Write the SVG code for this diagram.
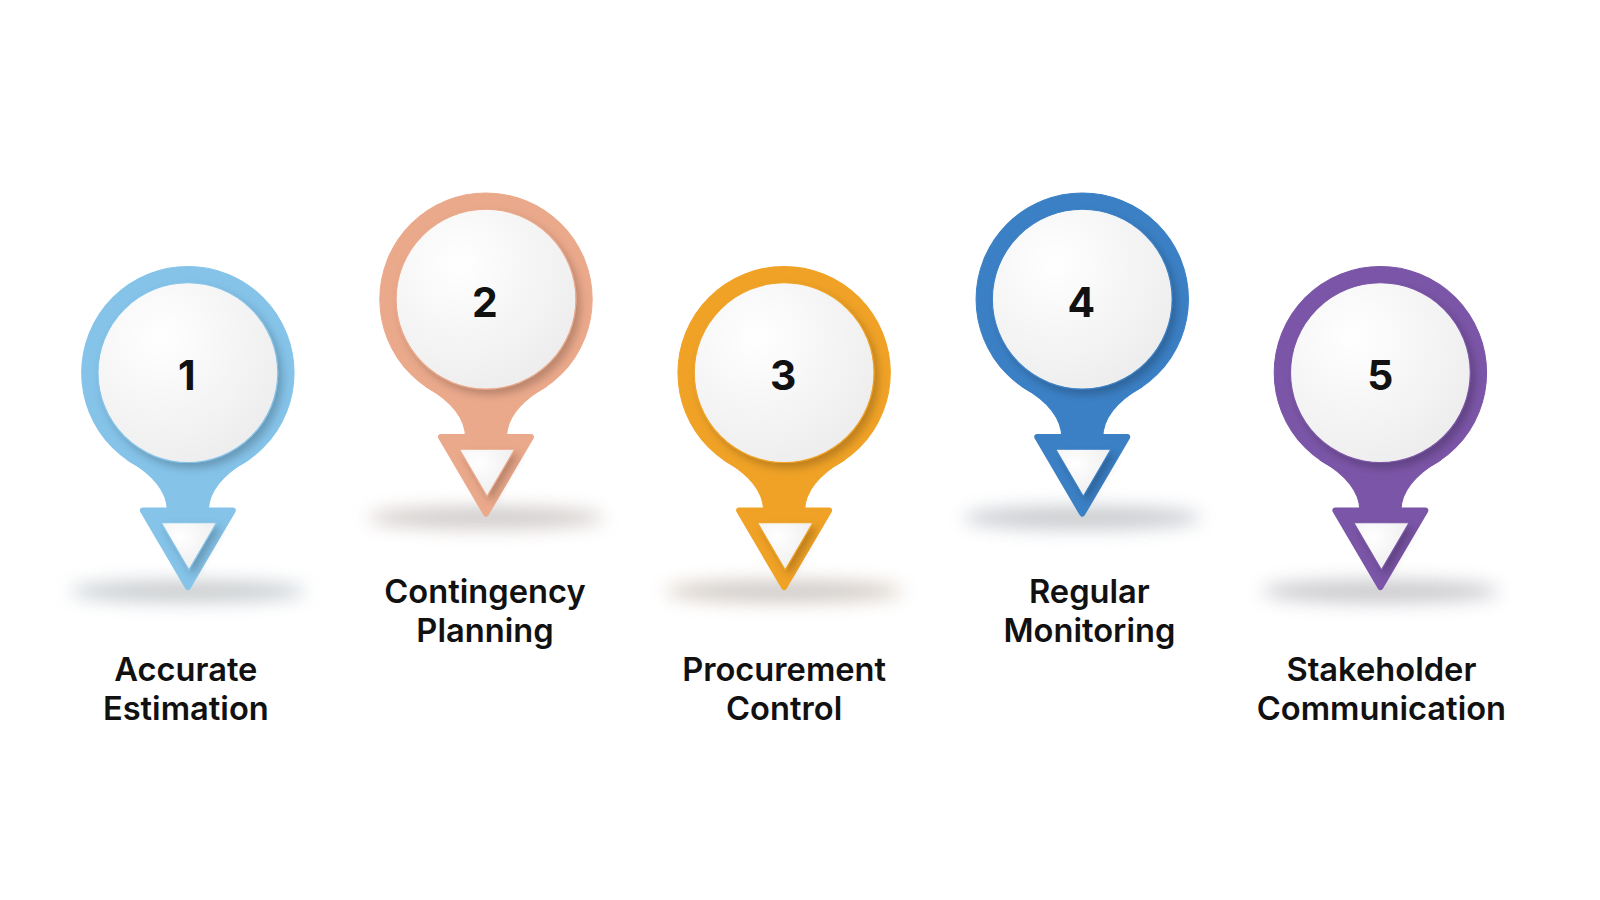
<svg xmlns="http://www.w3.org/2000/svg" width="1600" height="900" viewBox="0 0 1600 900">
<defs>
<filter id="blur" x="-50%" y="-200%" width="200%" height="500%"><feGaussianBlur stdDeviation="9"/></filter>
<filter id="ds" x="-20%" y="-20%" width="140%" height="140%"><feDropShadow dx="4" dy="5" stdDeviation="4" flood-color="#000" flood-opacity="0.22"/></filter>
<radialGradient id="wg" cx="0.35" cy="0.3" r="0.8"><stop offset="0" stop-color="#ffffff"/><stop offset="1" stop-color="#ececec"/></radialGradient>
<g id="pin">
<ellipse cx="0" cy="214" rx="115" ry="10" fill="#b5b5b5" filter="url(#blur)" opacity="0.7"/>
<path d="M -58,86 Q -20,108 -20,136 L 20,136 Q 20,108 58,86 Z"/>
<path d="M -44,135 L 44,135 L 0,210 Z" stroke-width="6" stroke-linejoin="round"/>
<circle r="104"/>
<circle r="88" fill="url(#wg)" filter="url(#ds)"/>
<path d="M -26,147 L 28,147 L 1,193 Z" fill="url(#wg)" filter="url(#ds)"/>
</g>
</defs>
<style>
text{font-family:Inter,"Open Sans","Liberation Sans",sans-serif;font-weight:600;fill:#111;text-anchor:middle}
.num{font-size:40px;font-weight:700}
.lbl{font-size:32px}
</style>
<rect width="1600" height="900" fill="#fff"/>
<g transform="scale(1.021)">
<g id="node1"><use href="#pin" x="184" y="365" fill="#85c3e9" stroke="#85c3e9"/><text class="num" x="183" y="382">1</text><text class="lbl" x="182" y="667">Accurate</text><text class="lbl" x="182" y="705">Estimation</text></g>
<g id="node2"><use href="#pin" x="476" y="293" fill="#eba98b" stroke="#eba98b"/><text class="num" x="475" y="310">2</text><text class="lbl" x="475" y="591">Contingency</text><text class="lbl" x="475" y="629">Planning</text></g>
<g id="node3"><use href="#pin" x="768" y="365" fill="#f0a226" stroke="#f0a226"/><text class="num" x="767" y="382">3</text><text class="lbl" x="768" y="667">Procurement</text><text class="lbl" x="768" y="705">Control</text></g>
<g id="node4"><use href="#pin" x="1060" y="293" fill="#3b80c5" stroke="#3b80c5"/><text class="num" x="1059" y="310">4</text><text class="lbl" x="1067" y="591">Regular</text><text class="lbl" x="1067" y="629">Monitoring</text></g>
<g id="node5"><use href="#pin" x="1352" y="365" fill="#7b55a7" stroke="#7b55a7"/><text class="num" x="1352" y="382">5</text><text class="lbl" x="1353" y="667">Stakeholder</text><text class="lbl" x="1353" y="705">Communication</text></g>
</g>
<g id="connectors"/>
</svg>
